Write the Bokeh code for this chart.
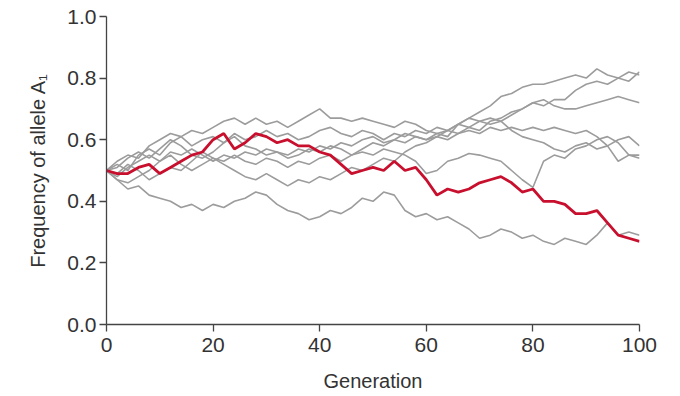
from bokeh.plotting import figure
from bokeh.models import FixedTicker, Range1d, NumeralTickFormatter
from bokeh.embed import file_html
from bokeh.resources import INLINE

generation = list(range(0, 101, 2))

red_line = [0.50, 0.49, 0.49, 0.51, 0.52, 0.49, 0.51, 0.53, 0.55, 0.56,
            0.60, 0.62, 0.57, 0.59, 0.62, 0.61, 0.59, 0.60, 0.58, 0.58,
            0.56, 0.55, 0.52, 0.49, 0.50, 0.51, 0.50, 0.53, 0.50, 0.51,
            0.47, 0.42, 0.44, 0.43, 0.44, 0.46, 0.47, 0.48, 0.46, 0.43,
            0.44, 0.40, 0.40, 0.39, 0.36, 0.36, 0.37, 0.33, 0.29, 0.28, 0.27]

gray_1 = [0.50, 0.53, 0.55, 0.54, 0.58, 0.60, 0.62, 0.61, 0.63, 0.62,
          0.64, 0.66, 0.67, 0.65, 0.67, 0.65, 0.66, 0.64, 0.66, 0.68,
          0.70, 0.67, 0.67, 0.66, 0.67, 0.66, 0.65, 0.64, 0.66, 0.65,
          0.63, 0.62, 0.63, 0.65, 0.67, 0.69, 0.71, 0.74, 0.75, 0.77,
          0.78, 0.78, 0.79, 0.80, 0.81, 0.80, 0.83, 0.81, 0.80, 0.82, 0.81]

gray_2 = [0.50, 0.52, 0.50, 0.55, 0.57, 0.55, 0.59, 0.61, 0.58, 0.60,
          0.61, 0.59, 0.62, 0.60, 0.61, 0.63, 0.61, 0.62, 0.60, 0.61,
          0.63, 0.64, 0.62, 0.61, 0.63, 0.62, 0.60, 0.62, 0.61, 0.63,
          0.62, 0.64, 0.63, 0.65, 0.64, 0.66, 0.67, 0.66, 0.68, 0.70,
          0.72, 0.71, 0.73, 0.73, 0.76, 0.78, 0.79, 0.78, 0.80, 0.79, 0.82]

gray_3 = [0.50, 0.48, 0.51, 0.53, 0.55, 0.53, 0.56, 0.55, 0.57, 0.55,
          0.53, 0.55, 0.54, 0.56, 0.55, 0.57, 0.56, 0.55, 0.57, 0.56,
          0.58, 0.57, 0.59, 0.58, 0.60, 0.61, 0.59, 0.60, 0.62, 0.61,
          0.60, 0.61, 0.63, 0.62, 0.64, 0.63, 0.66, 0.67, 0.69, 0.70,
          0.72, 0.73, 0.71, 0.70, 0.70, 0.71, 0.72, 0.73, 0.74, 0.73, 0.72]

gray_4 = [0.50, 0.51, 0.54, 0.56, 0.54, 0.57, 0.60, 0.58, 0.55, 0.54,
          0.56, 0.59, 0.61, 0.58, 0.57, 0.55, 0.56, 0.54, 0.55, 0.57,
          0.56, 0.58, 0.57, 0.55, 0.57, 0.59, 0.58, 0.60, 0.59, 0.61,
          0.60, 0.62, 0.61, 0.65, 0.67, 0.66, 0.65, 0.66, 0.63, 0.61,
          0.60, 0.59, 0.57, 0.56, 0.58, 0.59, 0.57, 0.58, 0.60, 0.61, 0.58]

gray_5 = [0.50, 0.47, 0.46, 0.48, 0.50, 0.53, 0.55, 0.52, 0.50, 0.52,
          0.54, 0.53, 0.55, 0.53, 0.52, 0.54, 0.53, 0.51, 0.53, 0.52,
          0.54, 0.55, 0.53, 0.55, 0.56, 0.55, 0.57, 0.56, 0.55, 0.53,
          0.49, 0.50, 0.53, 0.54, 0.555, 0.55, 0.54, 0.53, 0.50, 0.47,
          0.445, 0.53, 0.55, 0.54, 0.57, 0.58, 0.60, 0.61, 0.59, 0.55, 0.55]

gray_6 = [0.50, 0.49, 0.52, 0.50, 0.47, 0.49, 0.51, 0.50, 0.53, 0.56,
          0.54, 0.52, 0.50, 0.48, 0.47, 0.49, 0.47, 0.45, 0.47, 0.46,
          0.48, 0.47, 0.49, 0.51, 0.50, 0.52, 0.54, 0.53, 0.56, 0.58,
          0.59, 0.61, 0.60, 0.62, 0.63, 0.62, 0.64, 0.63, 0.64, 0.63,
          0.64, 0.63, 0.64, 0.63, 0.62, 0.63, 0.61, 0.58, 0.53, 0.55, 0.54]

gray_7 = [0.50, 0.47, 0.44, 0.45, 0.42, 0.41, 0.40, 0.38, 0.39, 0.37,
          0.39, 0.38, 0.40, 0.41, 0.43, 0.42, 0.39, 0.37, 0.36, 0.34,
          0.35, 0.37, 0.36, 0.38, 0.41, 0.40, 0.43, 0.42, 0.37, 0.35,
          0.36, 0.34, 0.35, 0.33, 0.31, 0.28, 0.29, 0.31, 0.30, 0.28,
          0.29, 0.27, 0.26, 0.28, 0.27, 0.26, 0.29, 0.33, 0.29, 0.30, 0.29]

gray_lines = [gray_1, gray_2, gray_3, gray_4, gray_5, gray_6, gray_7]

x_ticks = [0, 20, 40, 60, 80, 100]
y_ticks = [0.0, 0.2, 0.4, 0.6, 0.8, 1.0]

FONT = "Liberation Sans"

p = figure(width=680, height=396, output_backend="svg", toolbar_location=None,
           x_range=Range1d(0, 100), y_range=Range1d(0, 1),
           min_border_left=106, min_border_right=41, min_border_top=16,
           min_border_bottom=72)
p.xgrid.visible = False
p.ygrid.visible = False
p.outline_line_color = None
p.background_fill_color = "white"
p.border_fill_color = "white"

for g in gray_lines:
    p.line(generation, g, line_color="#9c9c9c", line_width=1.6)
p.line(generation, red_line, line_color="#c8102e", line_width=2.8)

p.xaxis.ticker = FixedTicker(ticks=x_ticks)
p.yaxis.ticker = FixedTicker(ticks=y_ticks)
p.yaxis.formatter = NumeralTickFormatter(format="0.0")
p.xaxis.axis_label = "Generation"
p.yaxis.axis_label = "Frequency of allele A\u2081"

for ax in (p.xaxis, p.yaxis):
    ax.major_label_text_font = FONT
    ax.major_label_text_font_size = "21px"
    ax.major_label_text_color = "#333333"
    ax.axis_label_text_font = FONT
    ax.axis_label_text_font_size = "20px"
    ax.axis_label_text_font_style = "normal"
    ax.axis_label_text_color = "#333333"
    ax.axis_line_color = "#444444"
    ax.axis_line_width = 1.3
    ax.major_tick_line_color = "#444444"
    ax.major_tick_line_width = 1.3
    ax.major_tick_out = 7
    ax.major_tick_in = 0
    ax.minor_tick_line_color = None
p.xaxis.major_label_standoff = 6
p.yaxis.major_label_standoff = 3
p.xaxis.axis_label_standoff = 15
p.yaxis.axis_label_standoff = 15

open("out.html", "w").write(file_html(p, INLINE))
